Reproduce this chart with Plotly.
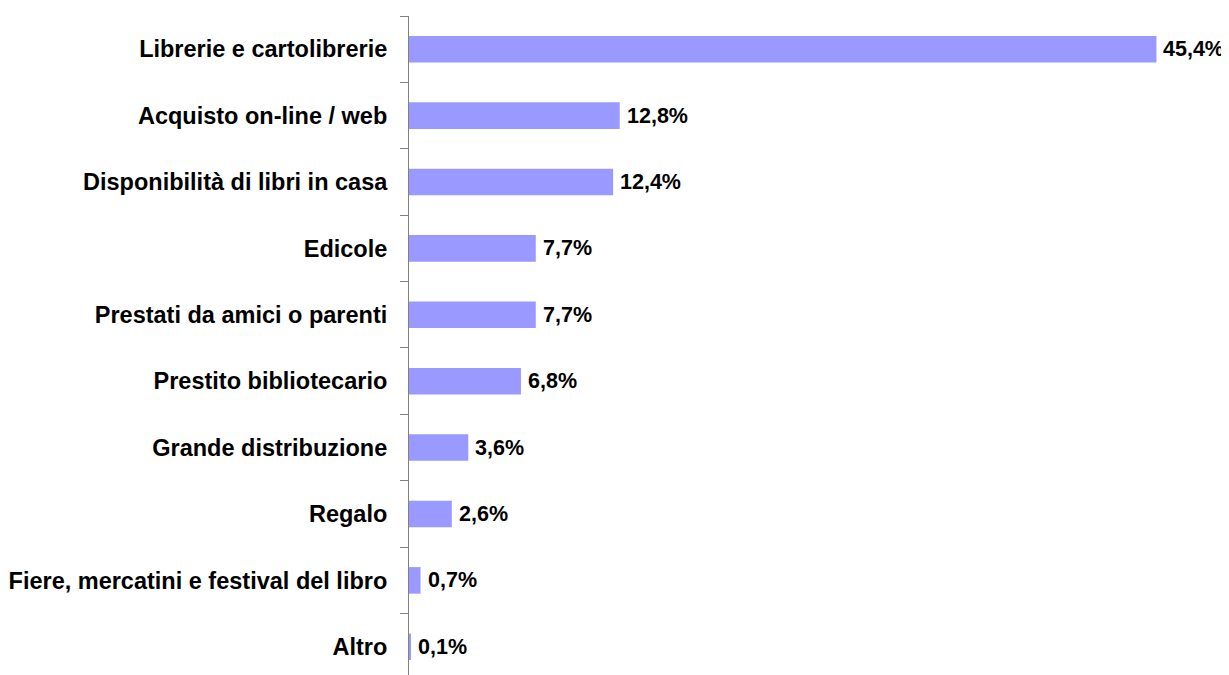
import plotly.graph_objects as go

categories = [
    "Librerie e cartolibrerie",
    "Acquisto on-line / web",
    "Disponibilità di libri in casa",
    "Edicole",
    "Prestati da amici o parenti",
    "Prestito bibliotecario",
    "Grande distribuzione",
    "Regalo",
    "Fiere, mercatini e festival del libro",
    "Altro",
]
values = [45.4, 12.8, 12.4, 7.7, 7.7, 6.8, 3.6, 2.6, 0.7, 0.1]
value_labels = [f"{v:.1f}".replace(".", ",") + "%" for v in values]

FONT = "Liberation Sans, Arial, sans-serif"

fig = go.Figure()
fig.add_trace(go.Bar(
    y=categories,
    x=values,
    orientation="h",
    marker=dict(color="#9999FF", line=dict(width=0)),
    width=0.4,
    hoverinfo="skip",
))

for c, v, t in zip(categories, values, value_labels):
    fig.add_annotation(
        x=v, y=c, text=t, showarrow=False,
        xanchor="left", yanchor="middle", xshift=5,
        font=dict(family=FONT, size=21.5, color="#000000", weight="bold"),
    )

# the page body has an 8px default margin, so the figure is sized/offset to compensate
fig.update_layout(
    width=1221, height=667,
    margin=dict(l=401, r=10, t=8, b=0, autoexpand=False),
    paper_bgcolor="white", plot_bgcolor="white",
    showlegend=False,
    font=dict(family=FONT, size=22, color="#000000"),
)
fig.update_xaxes(
    range=[0, 49.2], visible=False, showgrid=False, zeroline=False,
    automargin=False,
)
fig.update_yaxes(
    type="category", range=[9.425, -0.5], automargin=False,
    showline=True, linecolor="#808080", linewidth=1,
    ticks="outside", tickson="boundaries", ticklen=8, tickcolor="#808080",
    ticklabelstandoff=16,
    tickfont=dict(family=FONT, size=23.5, color="#000000", weight="bold"),
    showgrid=False, zeroline=False,
)

fig.write_html("out.html")
